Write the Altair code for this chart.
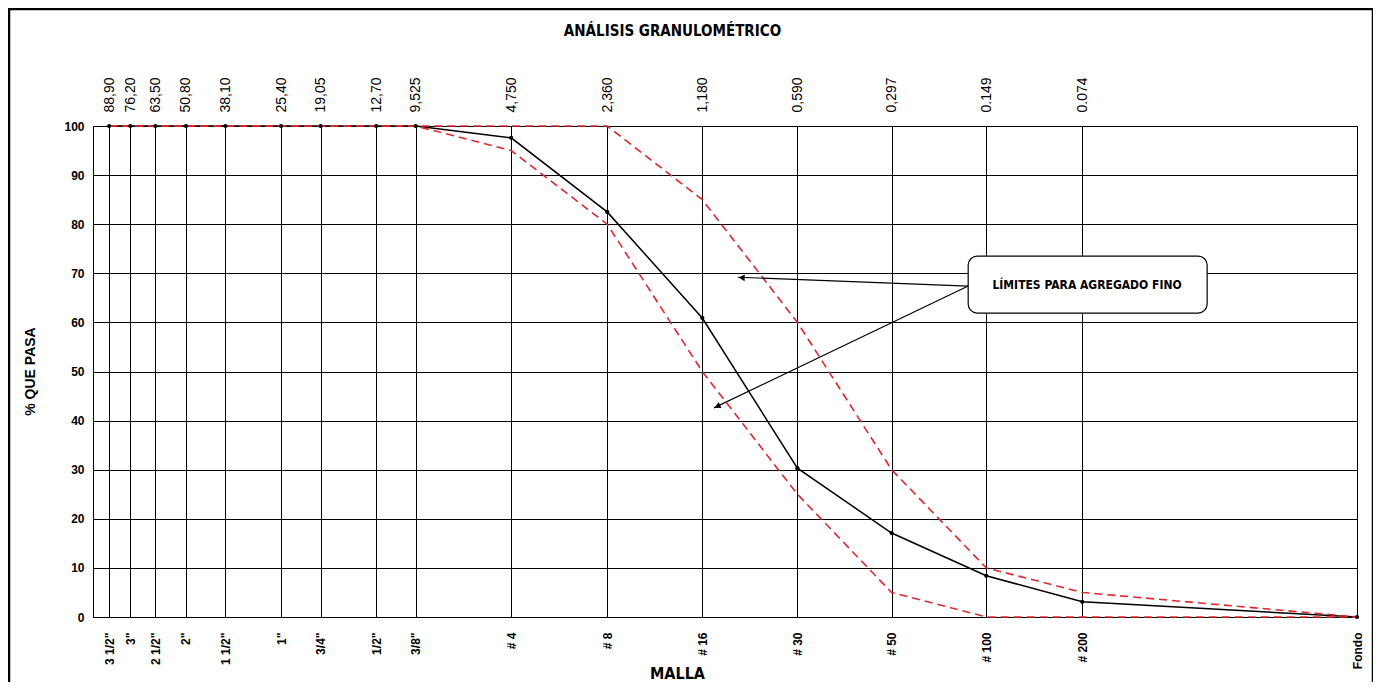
import altair as alt
import pandas as pd
import json

# Sieve positions (mm); "Fondo" is drawn at 0.01 mm
positions = [88.9, 76.2, 63.5, 50.8, 38.1, 25.4, 19.05, 12.7, 9.525,
             4.75, 2.36, 1.18, 0.59, 0.297, 0.149, 0.074, 0.01]
mesh_names = ['3 1/2"', '3"', '2 1/2"', '2"', '1 1/2"', '1"', '3/4"', '1/2"', '3/8"',
              '# 4', '# 8', '# 16', '# 30', '# 50', '# 100', '# 200', 'Fondo']
mm_labels = ["88,90", "76,20", "63,50", "50,80", "38,10", "25,40", "19,05", "12,70",
             "9,525", "4,750", "2,360", "1,180", "0,590", "0,297", "0.149", "0.074"]

pct_passing = [100, 100, 100, 100, 100, 100, 100, 100, 100,
               97.6, 82.5, 60.9, 30.3, 17.1, 8.4, 3.1, 0]
lower_limit = [100, 100, 100, 100, 100, 100, 100, 100, 100,
               95, 80, 50, 25, 5, 0, 0, 0]
upper_limit = [100, 100, 100, 100, 100, 100, 100, 100, 100,
               100, 100, 85, 60, 30, 10, 5, 0]

y_ticks = [0, 10, 20, 30, 40, 50, 60, 70, 80, 90, 100]

chart_title = "ANÁLISIS GRANULOMÉTRICO"

# annotation (data coordinates)
box_x = [0.170, 0.0298]
box_y = [73.5, 61.9]
box_text_pos = [0.0715, 67.7]
note_text = "LÍMITES PARA AGREGADO FINO"
arrow_start = [0.170, 67.4]
arrow_tips_x = [0.91, 1.084]
arrow_tips_y = [69.2, 42.6]
arrow_head_x = [0.885, 1.057]
arrow_head_y = [69.1, 42.9]
arrow_angles = [272, 244]

NARROW = "Liberation Sans Narrow, Arial Narrow, DejaVu Sans Condensed, sans-serif"
SANS = "Liberation Sans, Arial, sans-serif"

idx = list(range(len(positions)))
main_df = pd.DataFrame({"mm": positions, "pct": pct_passing, "idx": idx})
low_df = pd.DataFrame({"mm": positions, "pct": lower_limit, "idx": idx})
up_df = pd.DataFrame({"mm": positions, "pct": upper_limit, "idx": idx})

xscale = alt.Scale(type="log", domain=[0.01, 100], reverse=True, nice=False)
yscale = alt.Scale(domain=[0, 100], nice=False)

bottom_expr = "%s[indexof(%s, datum.value)]" % (json.dumps(mesh_names), json.dumps(positions))
top_expr = "%s[indexof(%s, datum.value)]" % (json.dumps(mm_labels), json.dumps(positions[:16]))

bottom_axis = alt.Axis(
    orient="bottom", values=positions, labelExpr=bottom_expr, labelAngle=270,
    labelFont=SANS, labelFontSize=12, labelFontWeight="bold", labelColor="black",
    labelPadding=15, labelFlush=False, labelOverlap=False, labelBound=False,
    grid=True, gridColor="black", gridOpacity=1, gridWidth=1,
    ticks=False, domain=True, domainColor="black",
    title="MALLA", titleFont=NARROW, titleFontSize=16, titleFontWeight="bold",
    titleColor="black", titleX=584, titleY=56, titleAlign="center", titleBaseline="middle",
)
top_axis = alt.Axis(
    orient="top", values=positions[:16], labelExpr=top_expr, labelAngle=270,
    labelFont=SANS, labelFontSize=14, labelColor="black",
    labelPadding=14, labelFlush=False, labelOverlap=False, labelBound=False,
    grid=False, ticks=False, domain=False,
    title=chart_title, titleFont=NARROW, titleFontSize=15, titleFontWeight="bold",
    titleColor="black", titleX=579, titleY=-96, titleAlign="center", titleBaseline="middle",
)
y_axis = alt.Axis(
    values=y_ticks, labelFont=SANS, labelFontSize=12, labelFontWeight="bold",
    labelColor="black", labelPadding=9, grid=True, gridColor="black", gridOpacity=1,
    gridWidth=1, ticks=False, domain=True, domainColor="black",
    title="% QUE PASA", titleFont=SANS, titleFontSize=14, titleFontWeight="bold",
    titleColor="black", titleX=-63, titleY=245, titleAlign="center", titleBaseline="middle",
    titleAngle=270,
)

X = alt.X("mm:Q", scale=xscale, axis=bottom_axis)
Y = alt.Y("pct:Q", scale=yscale, axis=y_axis)

RED = "#e3262d"

main_line = alt.Chart(main_df).mark_line(color="black", strokeWidth=1.5).encode(
    x=X, y=Y, order=alt.Order("idx:Q"))
low_line = alt.Chart(low_df).mark_line(color=RED, strokeWidth=1.6, strokeDash=[8, 5]).encode(
    x=X, y=Y, order=alt.Order("idx:Q"))
up_line = alt.Chart(up_df).mark_line(color=RED, strokeWidth=1.6, strokeDash=[8, 5]).encode(
    x=X, y=Y, order=alt.Order("idx:Q"))
main_pts = alt.Chart(main_df).mark_point(filled=True, color="black", size=18, opacity=1).encode(
    x=X, y=Y)

arrows_df = pd.DataFrame({"mm": [arrow_start[0]] * 2, "pct": [arrow_start[1]] * 2,
                          "mm2": arrow_tips_x, "pct2": arrow_tips_y})
arrows = alt.Chart(arrows_df).mark_rule(color="black", strokeWidth=1.2).encode(
    x=X, y=Y, x2="mm2:Q", y2="pct2:Q")
heads_df = pd.DataFrame({"mm": arrow_head_x, "pct": arrow_head_y, "ang": arrow_angles})
heads = alt.Chart(heads_df).mark_point(shape="triangle-up", filled=True, color="black", size=45, opacity=1).encode(
    x=X, y=Y, angle=alt.Angle("ang:Q", scale=None))

box_df = pd.DataFrame({"mm": [box_x[0]], "mm2": [box_x[1]], "pct": [box_y[0]], "pct2": [box_y[1]]})
box = alt.Chart(box_df).mark_rect(fill="white", stroke="black", strokeWidth=1.2, cornerRadius=9).encode(
    x=X, x2="mm2:Q", y=Y, y2="pct2:Q")
txt_df = pd.DataFrame({"mm": [box_text_pos[0]], "pct": [box_text_pos[1]], "t": [note_text]})
txt = alt.Chart(txt_df).mark_text(font=NARROW, fontSize=12, fontWeight="bold", color="black").encode(
    x=X, y=Y, text="t:N")

frame = alt.Chart(alt.Data(values=[{}])).mark_rect(fill=None, stroke="black", strokeWidth=2.5).encode(
    x=alt.value(-84), x2=alt.value(1280), y=alt.value(-117), y2=alt.value(620))

inner = alt.layer(frame, main_line, low_line, up_line, arrows, heads, box, txt, main_pts)

top_carrier = alt.Chart(main_df.iloc[:16]).mark_point(opacity=0).encode(
    x=alt.X("mm:Q", scale=xscale, axis=top_axis), y=Y)

chart = alt.layer(inner, top_carrier).resolve_scale(x="independent").properties(
    width=1264, height=491,
    autosize="none",
    padding={"left": 85, "top": 118, "right": 16, "bottom": 65},
).configure(background="white", view=alt.ViewConfig(stroke="black", strokeWidth=1))

chart.save("out.html", embed_options={"renderer": "svg", "actions": False})
